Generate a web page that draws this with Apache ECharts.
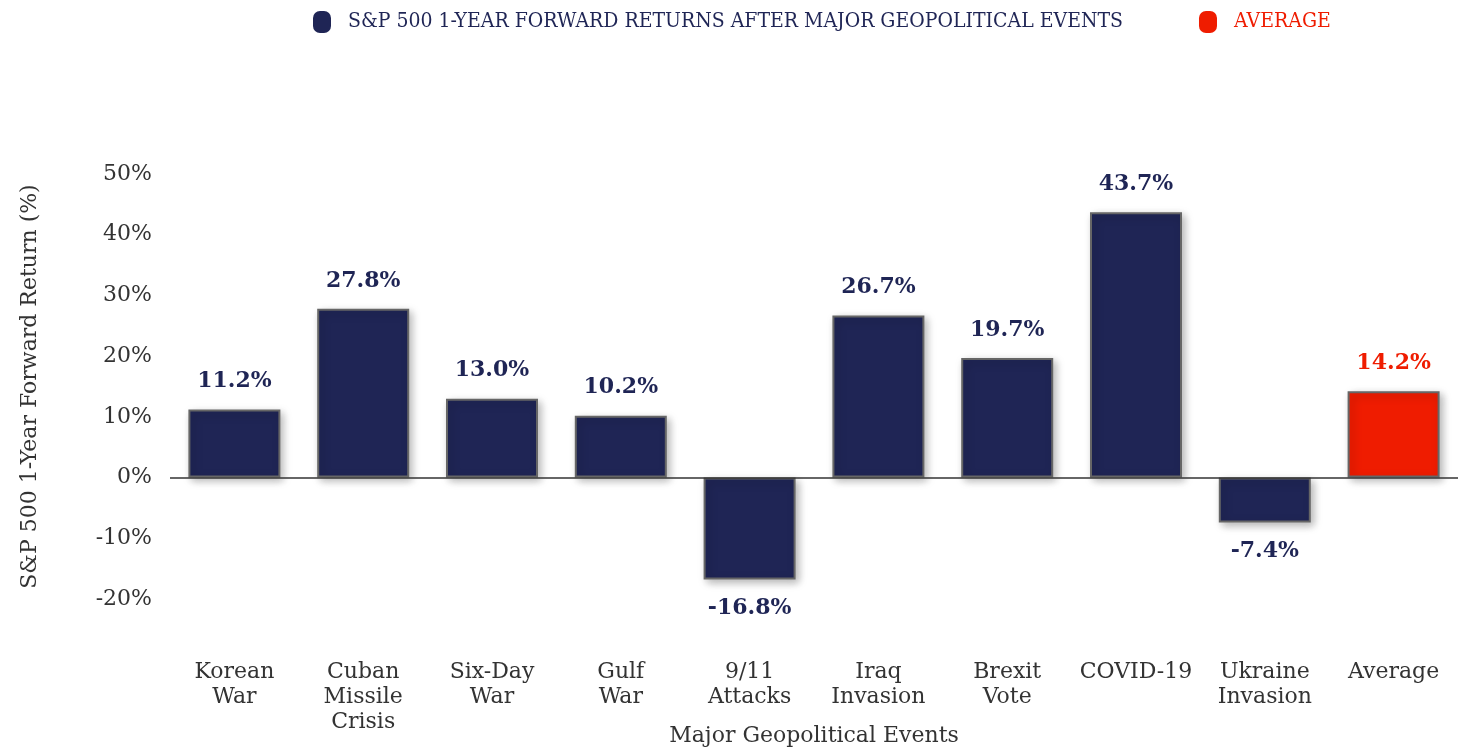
<!DOCTYPE html>
<html>
<head>
<meta charset="utf-8">
<script src="https://cdn.jsdelivr.net/npm/echarts@6/dist/echarts.min.js"></script>
<style>
  html, body {margin: 0; padding: 0; background: #fff;}
  #chart {width: 1458px; height: 750px;}
</style>
</head>
<body>
<div id="chart"></div>
<script>
// chart data
const categories = ['Korean\nWar', 'Cuban\nMissile\nCrisis', 'Six-Day\nWar', 'Gulf\nWar', '9/11\nAttacks',
	'Iraq\nInvasion', 'Brexit\nVote', 'COVID-19', 'Ukraine\nInvasion', 'Average'];
const eventReturns = [11.2, 27.8, 13.0, 10.2, -16.8, 26.7, 19.7, 43.7, -7.4, '-'];
const averageReturn = ['-', '-', '-', '-', '-', '-', '-', '-', '-', 14.2];
const eventName = 'S&P 500 1-YEAR FORWARD RETURNS AFTER MAJOR GEOPOLITICAL EVENTS';
const averageName = 'AVERAGE';

const NAVY = '#1f2555';
const RED = '#ef1c00';
const FONT = '"DejaVu Serif", serif';
const FONT_NARROW = '"DejaVu Serif Condensed", "DejaVu Serif", serif';
const PILL = 'path://M7,0 H11 A7,7 0 0 1 18,7 V15 A7,7 0 0 1 11,22 H7 A7,7 0 0 1 0,15 V7 A7,7 0 0 1 7,0 Z';

const chart = echarts.init(document.getElementById('chart'));

function barStyle(color) {
	return {
		color: color,
		borderColor: '#666',
		borderWidth: 2,
		shadowColor: 'rgba(0,0,0,0.28)',
		shadowBlur: 8,
		shadowOffsetX: 3,
		shadowOffsetY: 3,
	};
}

function labelStyle(color) {
	return {
		show: true,
		fontFamily: FONT,
		fontSize: 22,
		fontWeight: 'bold',
		color: color,
		formatter: p => p.value.toFixed(1) + '%',
		position: 'top',
		distance: 17,
	};
}

chart.setOption({
	animation: false,
	textStyle: {fontFamily: FONT},
	legend: {
		top: 6,
		left: 308,
		itemWidth: 18,
		itemHeight: 22,
		itemGap: 76,
		icon: PILL,
		itemStyle: {borderWidth: 0, shadowBlur: 0, shadowOffsetX: 0, shadowOffsetY: 0},
		textStyle: {fontFamily: FONT_NARROW, fontSize: 21, padding: [0, 0, 0, 12]},
		data: [
			{name: eventName, textStyle: {color: NAVY}},
			{name: averageName, textStyle: {color: RED}},
		],
	},
	grid: {left: 170, right: 0, top: 174, bottom: 151, outerBoundsMode: 'none'},
	xAxis: {
		type: 'category',
		data: categories,
		name: 'Major Geopolitical Events',
		nameLocation: 'middle',
		nameGap: 126,
		nameMoveOverlap: false,
		nameTextStyle: {fontFamily: FONT, fontSize: 22, color: '#333'},
		axisLine: {show: false, onZero: false},
		axisTick: {show: false},
		axisLabel: {
			fontFamily: FONT,
			fontSize: 22,
			color: '#333',
			margin: 61,
			lineHeight: 25,
			interval: 0,
		},
	},
	yAxis: {
		type: 'value',
		min: -20,
		max: 50,
		interval: 10,
		name: 'S&P 500 1-Year Forward Return (%)',
		nameLocation: 'middle',
		nameGap: 129,
		nameMoveOverlap: false,
		nameTextStyle: {fontFamily: FONT, fontSize: 22, color: '#333'},
		axisLine: {show: false},
		axisTick: {show: false},
		splitLine: {show: false},
		axisLabel: {
			fontFamily: FONT,
			fontSize: 22,
			color: '#333',
			margin: 18,
			formatter: '{value}%',
		},
	},
	series: [
		{
			name: eventName,
			type: 'bar',
			barWidth: 92,
			barGap: '-100%',
			itemStyle: barStyle(NAVY),
			label: labelStyle(NAVY),
			data: eventReturns.map(v => (v === '-' ? v : {
				value: v,
				label: v < 0 ? {position: 'bottom', distance: 18} : {},
			})),
			markLine: {
				silent: true,
				symbol: 'none',
				label: {show: false},
				lineStyle: {color: '#333', width: 1.5, type: 'solid'},
				data: [{yAxis: 0}],
			},
		},
		{
			name: averageName,
			type: 'bar',
			barWidth: 92,
			barGap: '-100%',
			itemStyle: barStyle(RED),
			label: labelStyle(RED),
			data: averageReturn,
		},
	],
});
</script>
</body>
</html>
